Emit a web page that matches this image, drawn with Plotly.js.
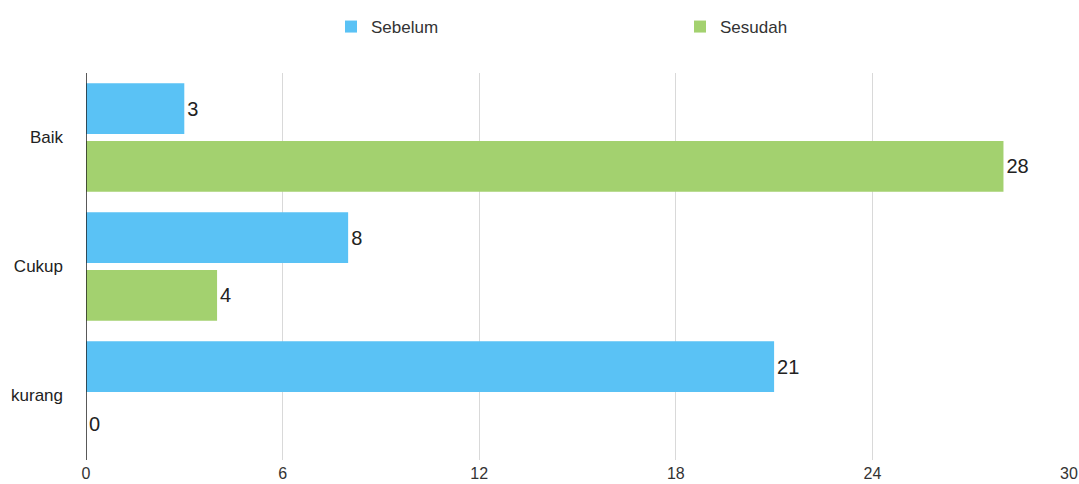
<!DOCTYPE html>
<html>
<head>
<meta charset="utf-8">
<script src="https://cdn.plot.ly/plotly-3.0.1.min.js"></script>
<style>html,body{margin:0;padding:0;background:#fff;}#chart{width:1079px;height:484px;}</style>
</head>
<body>
<div id="chart"></div>
<script>
const categories = ["Baik", "Cukup", "kurang"];
const sebelum = [3, 8, 21];
const sesudah = [28, 4, 0];
const seriesNames = ["Sebelum", "Sesudah"];
const xTicks = [0, 6, 12, 18, 24, 30];

const blue = "#5AC2F5";
const green = "#A3D16F";
const font = "Liberation Sans, Arial, Helvetica, sans-serif";

const traces = [
  {type: "bar", orientation: "h", name: seriesNames[0], y: categories, x: sebelum,
   marker: {color: blue}, text: sebelum.map(String), textposition: "outside",
   cliponaxis: false, textfont: {size: 20, color: "#222", family: font}},
  {type: "bar", orientation: "h", name: seriesNames[1], y: categories, x: sesudah,
   marker: {color: green}, text: sesudah.map(String), textposition: "outside",
   cliponaxis: false, textfont: {size: 20, color: "#222", family: font}}
];

const layout = {
  width: 1079, height: 484,
  margin: {l: 86, r: 10, t: 73, b: 24},
  paper_bgcolor: "#fff", plot_bgcolor: "#fff",
  font: {family: font, size: 16, color: "#333"},
  barmode: "group",
  bargap: 0.105,
  bargroupgap: 0.122,
  showlegend: true,
  legend: {orientation: "h", xref: "container", yref: "container", x: 331/1079, xanchor: "left",
           y: 1 - 9/484, yanchor: "top", entrywidth: 304, entrywidthmode: "pixels",
           traceorder: "normal", font: {size: 17, color: "#333", family: font},
           bgcolor: "rgba(0,0,0,0)", borderwidth: 0},
  xaxis: {range: [0, 30], tickvals: xTicks, ticktext: xTicks.map(String), showgrid: true,
          gridcolor: "#d9d9d9", gridwidth: 1, zeroline: false, showline: false,
          ticks: "", ticklabelstandoff: 2, tickfont: {size: 16, color: "#333"}, fixedrange: true},
  yaxis: {type: "category", categoryorder: "array", categoryarray: categories,
          autorange: "reversed", showgrid: false, zeroline: false, showline: false,
          ticks: "", ticklabelstandoff: 22, tickfont: {size: 17, color: "#222"}, fixedrange: true},
  shapes: [{type: "line", xref: "x", yref: "paper", x0: 0, x1: 0, y0: 0, y1: 1,
            line: {color: "#222", width: 1.5}}]
};

Plotly.newPlot("chart", traces, layout, {displayModeBar: false, staticPlot: true});
</script>
</body>
</html>
